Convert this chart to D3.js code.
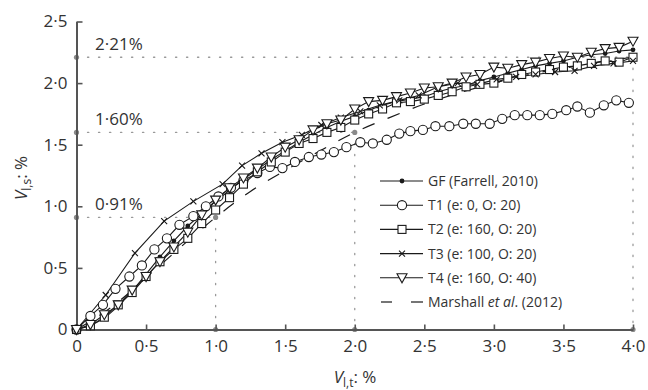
<!DOCTYPE html>
<html>
<head>
<meta charset="utf-8">
<script src="https://cdn.jsdelivr.net/npm/d3@7"></script>
<style>
  body { margin: 0; background: #fff; }
  svg { font-family: "Open Sans", "Noto Sans", sans-serif; }
</style>
</head>
<body>
<div id="chart"></div>
<script>
// x grid used by GF, T2 and T4 (0 to 4 in steps of 0.1)
const xStep = [0,0.1,0.2,0.3,0.4,0.5,0.6,0.7,0.8,0.9,1.0,1.1,1.2,1.3,1.4,1.5,1.6,1.7,1.8,1.9,2.0,
  2.1,2.2,2.3,2.4,2.5,2.6,2.7,2.8,2.9,3.0,3.1,3.2,3.3,3.4,3.5,3.6,3.7,3.8,3.9,4.0];

const gfY = [0,0.03,0.09,0.19,0.31,0.45,0.59,0.72,0.84,0.94,1.04,1.13,1.22,1.30,1.38,1.45,1.52,1.58,1.64,1.69,1.73,
  1.78,1.82,1.85,1.87,1.89,1.93,1.96,1.98,2.02,2.05,2.08,2.11,2.14,2.16,2.18,2.21,2.23,2.24,2.26,2.27];

const t1X = [0,0.10,0.19,0.28,0.38,0.47,0.56,0.65,0.74,0.84,0.93,1.02,1.11,1.20,1.30,1.39,1.48,1.57,1.67,1.76,1.85,1.94,
  2.04,2.13,2.23,2.32,2.40,2.49,2.58,2.68,2.78,2.87,2.97,3.06,3.15,3.24,3.33,3.42,3.52,3.60,3.69,3.79,3.88,3.97];
const t1Y = [0,0.11,0.20,0.33,0.43,0.52,0.65,0.74,0.85,0.92,1.00,1.08,1.15,1.21,1.27,1.32,1.31,1.36,1.40,1.42,1.44,1.48,
  1.52,1.51,1.54,1.59,1.61,1.62,1.65,1.65,1.67,1.67,1.67,1.71,1.74,1.74,1.74,1.75,1.78,1.81,1.76,1.82,1.86,1.84];

const t2Y = [0,0.03,0.10,0.20,0.30,0.43,0.55,0.65,0.74,0.86,0.97,1.07,1.18,1.28,1.36,1.44,1.51,1.55,1.60,1.64,1.70,
  1.75,1.79,1.84,1.85,1.87,1.90,1.93,1.97,1.99,2.00,2.04,2.07,2.09,2.11,2.13,2.14,2.16,2.18,2.17,2.21];

const t3X = [0,0.21,0.42,0.63,0.84,1.05,1.19,1.33,1.48,1.62,1.76,1.90,2.04,2.18,2.32,2.46,2.60,2.74,2.88,
  3.02,3.16,3.30,3.44,3.58,3.72,3.86,4.00];
const t3Y = [0,0.28,0.62,0.88,1.04,1.18,1.33,1.43,1.52,1.58,1.66,1.72,1.77,1.82,1.86,1.90,1.97,2.00,1.99,
  2.03,2.05,2.07,2.09,2.10,2.14,2.16,2.18];

const t4Y = [0,0.04,0.12,0.20,0.32,0.43,0.55,0.67,0.79,0.93,1.05,1.15,1.23,1.31,1.40,1.48,1.54,1.62,1.67,1.70,1.79,
  1.85,1.86,1.89,1.92,1.96,1.97,2.00,2.05,2.07,2.13,2.12,2.15,2.17,2.20,2.22,2.21,2.25,2.28,2.29,2.34];

const marshallX = [0,0.25,0.5,0.75,1.0,1.25,1.5,1.75,2.0,2.25,2.5,2.75,3.0,3.25,3.5,3.75,4.0];
const marshallY = [0,0.18,0.42,0.67,0.91,1.12,1.29,1.45,1.60,1.72,1.83,1.92,2.00,2.07,2.12,2.17,2.21];

// reference values marked with dotted lines
const refX = [1.0, 2.0, 4.0];
const refY = [0.91, 1.60, 2.21];
const refLabels = ["0·91%", "1·60%", "2·21%"];

const xTicks = [0,0.5,1.0,1.5,2.0,2.5,3.0,3.5,4.0];
const yTicks = [0,0.5,1.0,1.5,2.0,2.5];

const legendLabels = ["GF (Farrell, 2010)", "T1 (e: 0, O: 20)", "T2 (e: 160, O: 20)",
  "T3 (e: 100, O: 20)", "T4 (e: 160, O: 40)"];

const width = 648, height = 390;
const ink = "#1a1a1a";

const svg = d3.select("#chart").append("svg")
  .attr("width", width)
  .attr("height", height);

const x = d3.scaleLinear().domain([0, 4]).range([76.5, 633]);
const y = d3.scaleLinear().domain([0, 2.5]).range([329.5, 21.5]);

const fmt = v => v === 0 ? "0" : d3.format(".1f")(v).replace(".", "·");

// dotted reference lines
const ref = svg.append("g");
refX.forEach((rx, i) => {
  const ry = refY[i];
  ref.append("line")
    .attr("x1", x(0)).attr("x2", x(rx)).attr("y1", y(ry)).attr("y2", y(ry))
    .attr("stroke", "#999").attr("stroke-width", 1.3)
    .attr("stroke-dasharray", "1.3,9.7").attr("stroke-linecap", "round");
  ref.append("line")
    .attr("x1", x(rx)).attr("x2", x(rx)).attr("y1", y(ry)).attr("y2", y(0))
    .attr("stroke", "#999").attr("stroke-width", 1.3)
    .attr("stroke-dasharray", "1.3,9.7").attr("stroke-linecap", "round");
  [[0, ry], [rx, ry], [rx, 0]].forEach(p => {
    ref.append("circle").attr("cx", x(p[0])).attr("cy", y(p[1])).attr("r", 2.6).attr("fill", "#8a8a8a");
  });
  ref.append("text")
    .attr("x", 95).attr("y", y(ry) - 7)
    .attr("font-size", 17).attr("fill", "#333")
    .text(refLabels[i]);
});

// axes
const xAxis = svg.append("g")
  .attr("transform", "translate(0," + y(0) + ")")
  .call(d3.axisBottom(x).tickValues(xTicks).tickFormat(fmt).tickSizeInner(-5).tickSizeOuter(0).tickPadding(10));
const yAxis = svg.append("g")
  .attr("transform", "translate(" + x(0) + ",0)")
  .call(d3.axisLeft(y).tickValues(yTicks).tickFormat(fmt).tickSizeInner(-6).tickSizeOuter(0).tickPadding(9));
[xAxis, yAxis].forEach(a => {
  a.select(".domain").attr("stroke", "#555").attr("stroke-width", 2);
  a.selectAll(".tick line").attr("stroke", "#555").attr("stroke-width", 1.6);
  a.selectAll(".tick text").attr("font-size", 17).attr("fill", "#333")
    .attr("font-family", "'Open Sans', 'Noto Sans', sans-serif");
});

// axis titles
const xt = svg.append("text")
  .attr("x", 355).attr("y", 383).attr("text-anchor", "middle")
  .attr("font-size", 17).attr("fill", "#333");
xt.append("tspan").attr("font-style", "italic").text("V");
xt.append("tspan").attr("font-size", 12).attr("dy", 4).text("l,t");
xt.append("tspan").attr("dy", -4).text(": %");

const yt = svg.append("text")
  .attr("transform", "translate(27,178) rotate(-90)").attr("text-anchor", "middle")
  .attr("font-size", 17).attr("fill", "#333");
yt.append("tspan").attr("font-style", "italic").text("V");
yt.append("tspan").attr("font-size", 12).attr("dy", 4).text("l,s");
yt.append("tspan").attr("dy", -4).text(": %");

// markers
const markers = {
  dot: (g) => g.append("circle").attr("r", 2.4).attr("fill", ink),
  circle: (g) => g.append("circle").attr("r", 4.6).attr("fill", "#fff").attr("stroke", ink).attr("stroke-width", 1.1),
  square: (g) => g.append("rect").attr("x", -4).attr("y", -4).attr("width", 8).attr("height", 8)
    .attr("fill", "#fff").attr("stroke", ink).attr("stroke-width", 1.1),
  cross: (g) => g.append("path").attr("d", "M-3,-3L3,3M-3,3L3,-3").attr("stroke", ink).attr("stroke-width", 1.1),
  tri: (g) => g.append("path").attr("d", "M-5,-4L5,-4L0,5Z")
    .attr("fill", "#fff").attr("stroke", ink).attr("stroke-width", 1.1)
};

const series = [
  { xs: xStep, ys: gfY, m: "dot" },
  { xs: t1X, ys: t1Y, m: "circle" },
  { xs: xStep, ys: t2Y, m: "square" },
  { xs: t3X, ys: t3Y, m: "cross" },
  { xs: xStep, ys: t4Y, m: "tri" }
];

// Marshall et al. curve
const marshall = marshallX.map((v, i) => [v, marshallY[i]]);
svg.append("path")
  .datum(marshall)
  .attr("fill", "none").attr("stroke", ink).attr("stroke-width", 1.2)
  .attr("stroke-dasharray", "13,14")
  .attr("d", d3.line().x(d => x(d[0])).y(d => y(d[1])).curve(d3.curveMonotoneX));

const line = d3.line().x(d => x(d[0])).y(d => y(d[1]));
series.forEach(s => {
  const pts = s.xs.map((v, i) => [v, s.ys[i]]);
  svg.append("path").datum(pts)
    .attr("fill", "none").attr("stroke", ink).attr("stroke-width", 1.1)
    .attr("d", line);
});
series.forEach(s => {
  const pts = s.xs.map((v, i) => [v, s.ys[i]]);
  svg.append("g").selectAll("g").data(pts).enter().append("g")
    .attr("transform", d => "translate(" + x(d[0]) + "," + y(d[1]) + ")")
    .each(function () { markers[s.m](d3.select(this)); });
});

// legend
const lg = svg.append("g");
const rowY = d3.scaleLinear().domain([0, 5]).range([181, 302]);
legendLabels.forEach((lab, i) => {
  const ry = rowY(i);
  lg.append("line").attr("x1", 380).attr("x2", 423).attr("y1", ry).attr("y2", ry)
    .attr("stroke", ink).attr("stroke-width", 1.1);
  const mg = lg.append("g").attr("transform", "translate(402," + ry + ")");
  markers[series[i].m](mg);
  lg.append("text").attr("x", 428).attr("y", ry + 5)
    .attr("font-size", 14).attr("fill", "#333").text(lab);
});
const my = rowY(5);
lg.append("line").attr("x1", 381).attr("x2", 392).attr("y1", my).attr("y2", my).attr("stroke", ink).attr("stroke-width", 1.2);
lg.append("line").attr("x1", 411).attr("x2", 423).attr("y1", my).attr("y2", my).attr("stroke", ink).attr("stroke-width", 1.2);
const mt = lg.append("text").attr("x", 428).attr("y", my + 5).attr("font-size", 14).attr("fill", "#333");
mt.append("tspan").text("Marshall ");
mt.append("tspan").attr("font-style", "italic").text("et al");
mt.append("tspan").text(". (2012)");
</script>
</body>
</html>
